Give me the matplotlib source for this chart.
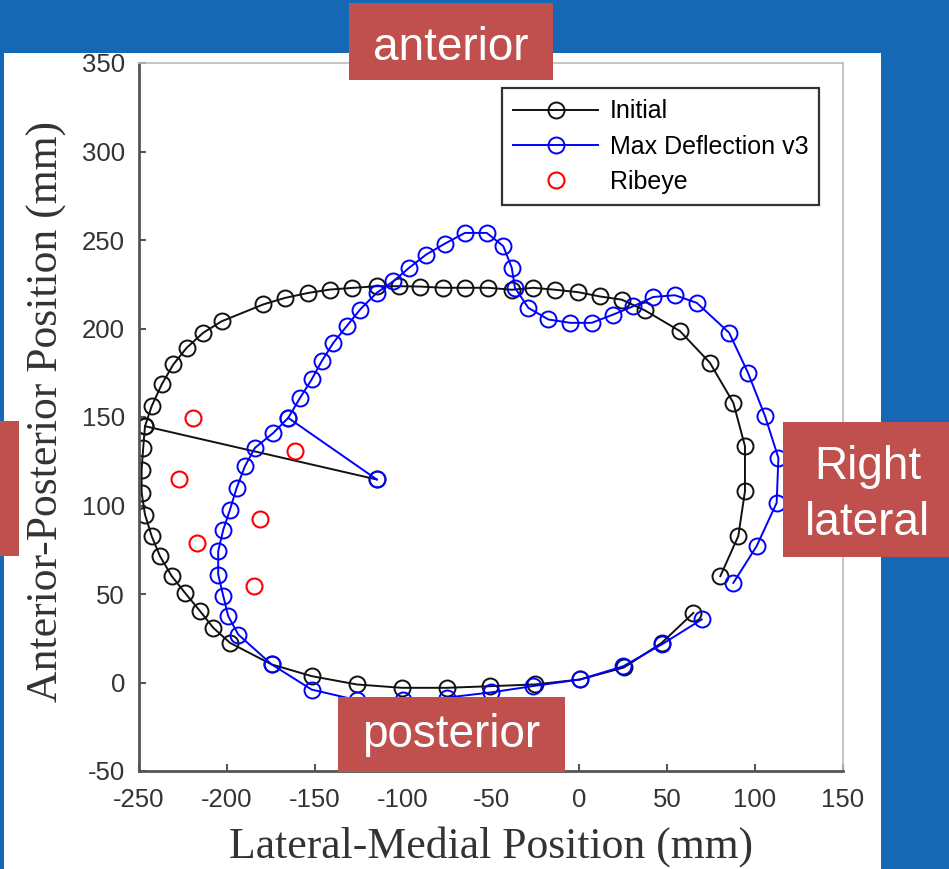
import matplotlib
matplotlib.use('Agg')
import matplotlib.pyplot as plt
from matplotlib.patches import Rectangle

# ---------------- data ----------------
centroid_x = -114.9
centroid_y = 114.7

initial_x = [80.3, 90.5, 94.3, 94.3, 87.7, 74.4, 57.4, 37.5, 24.3, 11.9, -0.4, -13.6,
             -26.0, -38.2, -51.5, -64.8, -77.1, -90.3, -102.2, -114.9, -129.2, -141.5,
             -153.8, -167.0, -179.4, -203.0, -213.5, -222.9, -230.5, -237.1, -242.8,
             -246.6, -247.6, -248.5, -248.5, -246.6, -242.8, -238.1, -231.4, -223.9,
             -215.3, -207.8, -198.3, -174.6, -151.9, -126.3, -100.7, -75.2, -50.6,
             -25.0, 0.6, 25.6, 47.0, 65.0]
initial_y = [60.1, 82.7, 108.1, 133.5, 158.0, 180.6, 198.5, 210.2, 216.3, 218.1, 220.5,
             221.9, 223.0, 221.9, 223.0, 223.0, 223.0, 223.7, 223.9, 223.9, 222.9, 222.0,
             220.1, 217.3, 213.6, 204.1, 197.6, 189.1, 179.7, 168.4, 156.1, 144.8, 132.6,
             120.3, 107.2, 94.9, 82.7, 71.4, 60.1, 50.7, 40.3, 30.9, 22.4, 10.2, 3.6,
             -1.1, -3.0, -3.0, -2.1, -1.1, 1.7, 8.5, 22.4, 39.3]
initial_spoke_index = 31

deflect_x = [87.7, 100.9, 112.3, 113.3, 105.7, 96.0, 85.3, 66.9, 54.5, 42.2, 30.9, 19.5,
             7.2, -5.0, -17.4, -28.8, -36.4, -38.2, -43.0, -52.4, -64.8, -76.1, -86.8,
             -96.5, -105.5, -115.0, -124.4, -132.0, -139.6, -146.2, -151.9, -158.5,
             -165.2, -173.7, -184.1, -189.8, -194.5, -198.3, -202.1, -205.0, -205.0,
             -202.1, -199.3, -193.6, -174.6, -151.9, -126.0, -100.0, -75.0, -50.0,
             -26.0, 0.6, 25.2, 47.0, 69.7]
deflect_y = [56.3, 77.0, 101.5, 126.9, 150.5, 175.0, 197.6, 214.5, 218.8, 217.8, 212.6,
             207.9, 203.2, 203.2, 205.1, 211.7, 223.0, 234.3, 246.5, 254.0, 254.0, 248.0,
             241.8, 234.3, 226.7, 220.1, 210.7, 201.3, 191.9, 181.5, 171.2, 160.8, 149.5,
             141.0, 132.6, 122.2, 110.0, 97.7, 86.4, 74.2, 61.0, 48.8, 37.5, 27.1, 10.2,
             -4.0, -10.0, -10.0, -8.5, -5.6, -2.0, 1.7, 9.2, 21.5, 35.6]
deflect_spoke_index = 32

ribeye_x = [-219.1, -161.4, -227.1, -181.3, -217.2, -184.7]
ribeye_y = [149.5, 130.7, 114.7, 92.1, 78.9, 54.4]

xticks = [-250, -200, -150, -100, -50, 0, 50, 100, 150]
yticks = [-50, 0, 50, 100, 150, 200, 250, 300, 350]

series_labels = ['Initial', 'Max Deflection v3', 'Ribeye']
xlabel = 'Lateral-Medial Position (mm)'
ylabel = 'Anterior-Posterior Position (mm)'

# ---------------- figure ----------------
W, H = 949, 869
BLUE_BG = '#1468b4'
RED_BOX = '#c0504d'

fig = plt.figure(figsize=(W / 100, H / 100), dpi=100)
fig.patch.set_facecolor(BLUE_BG)

bg = fig.add_axes([0, 0, 1, 1], zorder=-5)
bg.set_xlim(0, W); bg.set_ylim(H, 0); bg.axis('off')
bg.add_patch(Rectangle((4, 53), 877, 820, facecolor='white', edgecolor='none'))

ax = fig.add_axes([139 / W, (H - 771) / H, 704 / W, 708 / H], zorder=1)
ax.set_facecolor('white')

mk = dict(marker='o', markersize=11.5, markerfacecolor='none', markeredgewidth=1.4,
          linewidth=1.4)

# Initial
ax.plot(initial_x, initial_y, color='#111111', label=series_labels[0], **mk)
ax.plot([centroid_x, initial_x[initial_spoke_index]],
        [centroid_y, initial_y[initial_spoke_index]], color='#111111', **mk)
# Max deflection
ax.plot(deflect_x, deflect_y, color='#0000ff', label=series_labels[1], **mk)
ax.plot([centroid_x, deflect_x[deflect_spoke_index]],
        [centroid_y, deflect_y[deflect_spoke_index]], color='#0000ff', **mk)
# Ribeye
ax.plot(ribeye_x, ribeye_y, linestyle='none', marker='o', markersize=11.5,
        markerfacecolor='none', markeredgecolor='#ff0000', markeredgewidth=1.5,
        label=series_labels[2])

ax.set_xlim(-250, 150)
ax.set_ylim(-50, 350)
ax.set_xticks(xticks)
ax.set_yticks(yticks)
ax.set_xticklabels([str(t) for t in xticks])
ax.set_yticklabels([str(t) for t in yticks])

for s in ['left', 'bottom']:
    ax.spines[s].set_color('#555555')
    ax.spines[s].set_linewidth(2.0)
for s in ['top', 'right']:
    ax.spines[s].set_color('#bbbbbb')
    ax.spines[s].set_linewidth(1.2)

ax.tick_params(axis='both', direction='in', length=5, width=1.5, color='#555555',
               labelsize=18.5, labelcolor='#333333', top=False, right=False)
ax.tick_params(axis='x', pad=12)
ax.tick_params(axis='y', pad=10)
for lab in ax.get_xticklabels() + ax.get_yticklabels():
    lab.set_fontfamily(['Liberation Sans', 'DejaVu Sans'])

ax.set_xlabel(xlabel, fontsize=31.5, family=['Liberation Serif', 'DejaVu Serif'],
              color='#333333')
ax.set_ylabel(ylabel, fontsize=31.5, family=['Liberation Serif', 'DejaVu Serif'],
              color='#333333')
ax.xaxis.set_label_coords(0.5, (771 - 847) / 708)
ax.xaxis.label.set_verticalalignment('center')
ax.yaxis.set_label_coords((47 - 139) / 704, (771 - 411) / 708)
ax.yaxis.label.set_verticalalignment('center')

leg = ax.legend(loc='upper left', bbox_to_anchor=((502 - 139) / 704, (771 - 88) / 708),
                borderaxespad=0, fancybox=False, framealpha=1, edgecolor='#333333',
                prop={'family': ['Liberation Sans', 'DejaVu Sans'], 'size': 18},
                handlelength=3.4, handletextpad=0.45, borderpad=0.45, labelspacing=0.45)
leg.get_frame().set_linewidth(1.6)

# ---------------- annotation boxes ----------------
fg = fig.add_axes([0, 0, 1, 1], zorder=10)
fg.set_xlim(0, W); fg.set_ylim(H, 0); fg.axis('off')
fg.patch.set_alpha(0)

boxes = [(349, 3, 204, 77), (338, 697, 227, 75), (783, 422, 166, 135), (0, 421, 19, 135)]
for (x0, y0, w, h) in boxes:
    fg.add_patch(Rectangle((x0, y0), w, h, facecolor=RED_BOX, edgecolor='none'))

tkw = dict(color='white', fontsize=33, family=['Liberation Sans', 'DejaVu Sans'],
           ha='center', va='baseline')
fg.text(451, 60, 'anterior', **tkw)
fg.text(451, 747, 'posterior', **tkw)
fg.text(868, 479, 'Right', **tkw)
fg.text(868, 535, 'lateral', **tkw)

fig.savefig('out.png', dpi=100, facecolor=fig.get_facecolor())
